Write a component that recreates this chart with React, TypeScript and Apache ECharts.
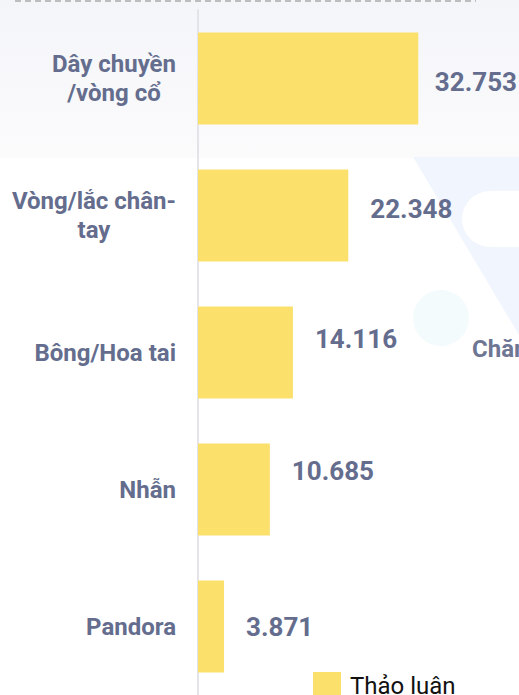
import React, { useEffect, useRef } from "react";
import * as echarts from "echarts";

const categories = ["Dây chuyền\n/vòng cổ", "Vòng/lắc chân-\ntay", "Bông/Hoa tai", "Nhẫn", "Pandora"];
const values = [32753, 22348, 14116, 10685, 3871];
const seriesName = "Thảo luận";
// vertical nudges of the value labels as placed in the reference
const labelDy = [3, -7, -14, -19, 0];

const fmt = (v: number) => String(v).replace(/\B(?=(\d{3})+(?!\d))/g, ".");

export default function App() {
  const ref = useRef<HTMLDivElement>(null);
  useEffect(() => {
    document.body.style.margin = "0";
    const chart = echarts.init(ref.current!, null, { renderer: "svg" });
    const textColor = "#646d8d";
    const labelFont = {
      fontSize: 24,
      fontWeight: "bold" as const,
      fontFamily: "Roboto",
      color: textColor,
      lineHeight: 29,
    };
    chart.setOption({
      animation: false,
      backgroundColor: "#ffffff",
      graphic: [
        {
          type: "rect",
          z: -10,
          shape: { x: 0, y: 0, width: 519, height: 158 },
          style: {
            fill: new echarts.graphic.LinearGradient(0, 0, 0, 1, [
              { offset: 0, color: "#f4f5f9" },
              { offset: 1, color: "#fbfbfc" },
            ]),
          },
        },
        {
          type: "polygon",
          z: -9,
          shape: { points: [[413, 157], [519, 157], [519, 335]] },
          style: { fill: "#f1f5fd" },
        },
        {
          type: "rect",
          z: -8,
          shape: { x: 462, y: 191, width: 70, height: 56, r: [28, 0, 0, 28] },
          style: { fill: "#ffffff" },
        },
        {
          type: "circle",
          z: -8,
          shape: { cx: 441, cy: 318, r: 28 },
          style: { fill: "#f4fbfd" },
        },
        {
          type: "line",
          z: -5,
          shape: { x1: 15, y1: 1, x2: 476, y2: 1 },
          style: { stroke: "#aaaaaa", lineWidth: 1.5, lineDash: [6, 4] },
        },
        {
          type: "text",
          z: 5,
          x: 472,
          y: 349,
          style: {
            text: "Chăm",
            fill: "#6e7694",
            font: "bold 24px Roboto",
            verticalAlign: "middle",
          },
        },
      ],
      legend: {
        data: [seriesName],
        left: 308,
        top: 667,
        itemWidth: 28,
        itemHeight: 28,
        itemGap: 10,
        icon: "rect",
        textStyle: { fontSize: 24, color: "#111111", fontFamily: "Roboto", padding: [0, 0, 0, 4] },
      },
      grid: { left: 198, right: 52, top: 10, bottom: 0, containLabel: false },
      xAxis: {
        type: "value",
        min: 0,
        max: 40000,
        show: false,
      },
      yAxis: {
        type: "category",
        data: categories,
        inverse: true,
        axisLine: { show: true, lineStyle: { color: "#e2e4ea", width: 2 } },
        axisTick: { show: false },
        splitLine: { show: false },
        axisLabel: {
          margin: 22,
          align: "right",
          ...labelFont,
          formatter: (v: string) => {
            const lines = v.split("\n");
            if (lines.length < 2) return v;
            return lines[0] + "\n{b|" + lines.slice(1).join("\n") + "}";
          },
          rich: {
            b: { ...labelFont, width: 122, align: "center" },
          },
        },
      },
      series: [
        {
          name: seriesName,
          type: "bar",
          data: values,
          barWidth: 92,
          itemStyle: { color: "#fbe06c" },
          label: {
            show: true,
            position: "right",
            distance: 22,
            fontSize: 26,
            fontWeight: "bold",
            fontFamily: "Roboto",
            color: textColor,
            formatter: (p: any) => fmt(p.value),
          },
          labelLayout: (params: any) => {
            const r = params.labelRect;
            const maxX = 517 - r.width;
            return {
              dy: labelDy[params.dataIndex] || 0,
              dx: r.x > maxX ? maxX - r.x : 0,
            };
          },
        },
      ],
    });
    return () => chart.dispose();
  }, []);
  return <div ref={ref} style={{ width: 519, height: 695 }} />;
}
